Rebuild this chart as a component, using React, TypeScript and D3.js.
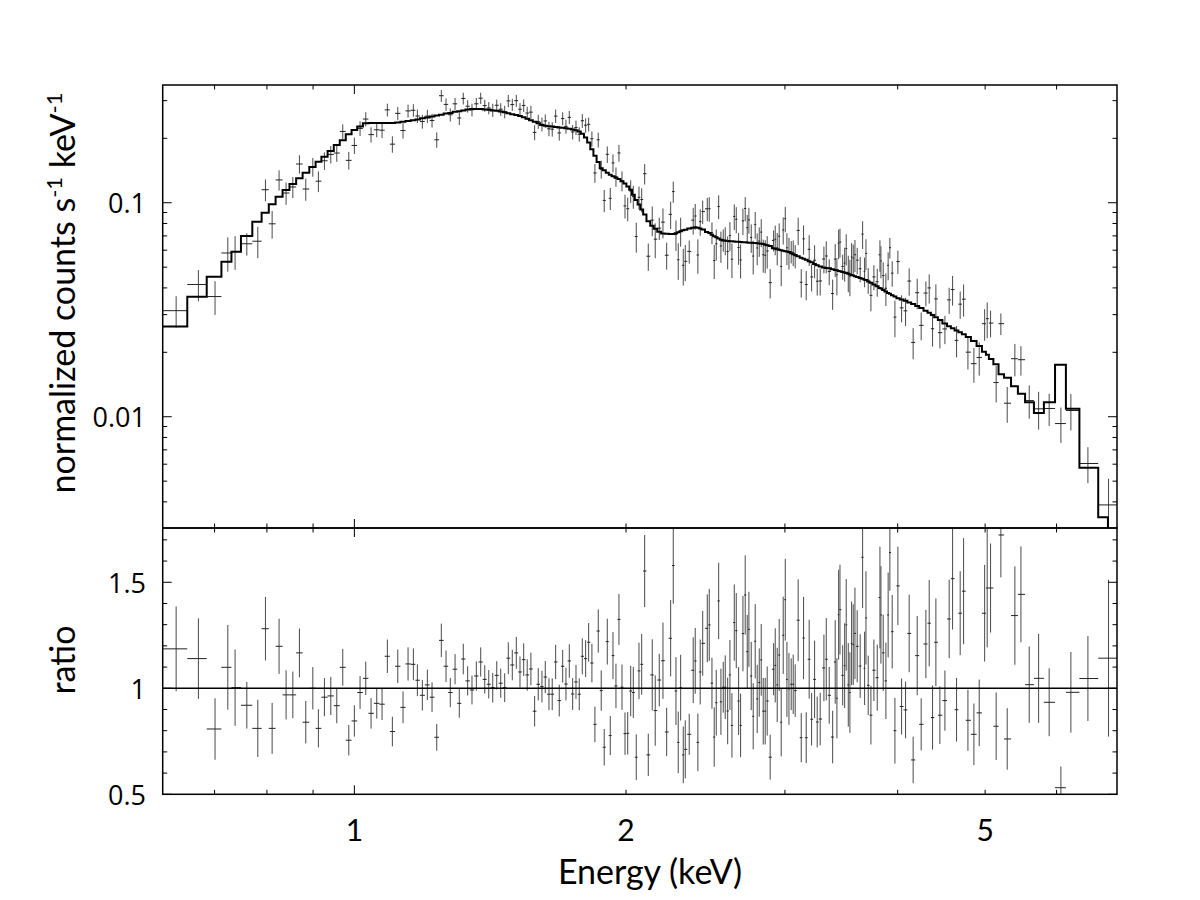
import React from 'react';
import * as d3 from 'd3';

// ---------------- data ----------------
// bin centre energies (keV)
const binEnergy = [
  0.6346, 0.6717, 0.7008, 0.724, 0.7376, 0.76, 0.7816, 0.797, 0.8107, 0.8252,
  0.8401, 0.8547, 0.8692, 0.8834, 0.8994, 0.9123, 0.9264, 0.9416, 0.9561, 0.9708,
  0.9858, 1.0, 1.0146, 1.0295, 1.0435, 1.0588, 1.0732, 1.0878, 1.1018, 1.1171,
  1.1322, 1.1468, 1.1625, 1.1744, 1.1894, 1.2047, 1.2192, 1.2339, 1.2484, 1.2635,
  1.2773, 1.2929, 1.307, 1.3203, 1.3352, 1.35, 1.365, 1.3804, 1.3947, 1.409,
  1.4234, 1.438, 1.4527, 1.4675, 1.4811, 1.4962, 1.5116, 1.5259, 1.5404, 1.5543,
  1.569, 1.584, 1.5987, 1.6138, 1.6276, 1.643, 1.6567, 1.6713, 1.6867, 1.7015,
  1.7158, 1.7305, 1.7454, 1.7603, 1.775, 1.7888, 1.8042, 1.8181, 1.8333, 1.8474,
  1.8632, 1.8774, 1.8918, 1.9066, 1.9212, 1.9345, 1.9493, 1.9642, 1.9795, 1.9948,
  2.0086, 2.024, 2.0375, 2.053, 2.0672, 2.0815, 2.0974, 2.1168, 2.1384, 2.1547,
  2.1771, 2.1977, 2.2185, 2.2412, 2.2562, 2.2718, 2.285, 2.2991, 2.3145, 2.3263,
  2.35, 2.374, 2.3862, 2.4024, 2.4167, 2.4322, 2.4606, 2.4731, 2.4903, 2.5047,
  2.5177, 2.5333, 2.5479, 2.5631, 2.5762, 2.5922, 2.6072, 2.6205, 2.6362, 2.6496,
  2.6656, 2.6792, 2.6951, 2.7108, 2.7249, 2.7365, 2.7528, 2.7668, 2.7809, 2.795,
  2.8096, 2.8239, 2.8383, 2.8527, 2.8672, 2.8891, 2.9145, 2.9266, 2.9415, 2.9564,
  2.9717, 2.9868, 3.0026, 3.0152, 3.031, 3.0485, 3.064, 3.0796, 3.1031, 3.1275,
  3.1463, 3.1674, 3.1915, 3.2114, 3.2359, 3.2576, 3.2825, 3.3137, 3.3336, 3.359,
  3.3884, 3.4105, 3.4255, 3.4405, 3.4524, 3.4764, 3.4941, 3.5078, 3.5262, 3.5409,
  3.5564, 3.5712, 3.5868, 3.6075, 3.635, 3.6577, 3.6763, 3.689, 3.7103, 3.736,
  3.7645, 3.7967, 3.823, 3.8327, 3.8548, 3.8815, 3.9039, 3.921, 3.9445, 3.9719,
  4.0021, 4.0401, 4.0813, 4.1192, 4.1611, 4.2044, 4.2472, 4.2984, 4.3351, 4.3722,
  4.4096, 4.4546, 4.5123, 4.5615, 4.6016, 4.6485, 4.6915, 4.7327, 4.7853, 4.8587,
  4.9253, 4.9939, 5.0263, 5.0699, 5.143, 5.205, 5.2897, 5.3942, 5.4782, 5.5955,
  5.7311, 5.8875, 6.0665, 6.223, 6.4994, 6.8502,
];

// data / model ratio per bin
const ratioValue = [
  1.186, 1.14, 0.808, 1.099, 1.003, 0.92, 0.811, 1.281, 0.811, 1.198,
  0.969, 0.969, 1.167, 0.84, 1.0, 0.811, 0.958, 0.964, 0.918, 1.099,
  0.755, 0.846, 0.98, 1.047, 0.882, 0.929, 0.925, 1.151, 0.796, 1.104,
  0.91, 1.115, 1.113, 1.038, 0.967, 1.016, 0.958, 0.769, 1.226, 1.104,
  0.98, 1.09, 0.929, 1.138, 1.035, 0.992, 1.058, 1.124, 1.042, 1.019,
  1.003, 1.061, 1.024, 1.003, 1.142, 1.11, 1.167, 1.077, 1.135, 1.063,
  1.091, 0.892, 1.019, 1.008, 1.053, 0.972, 0.972, 1.124, 0.942, 1.104,
  1.02, 1.129, 0.973, 1.03, 0.972, 1.151, 1.14, 1.217, 1.119, 0.83,
  1.27, 0.989, 0.722, 1.22, 0.777, 1.154, 1.011, 1.325, 1.005, 0.786,
  0.788, 0.987, 0.98, 0.675, 1.082, 1.113, 1.553, 0.686, 1.063, 0.895,
  1.039, 1.13, 0.794, 1.236, 1.579, 0.987, 0.745, 1.003, 0.686, 0.712,
  0.783, 1.085, 1.129, 0.745, 1.077, 1.212, 1.283, 1.299, 1.024, 0.77,
  0.932, 1.412, 0.936, 1.005, 1.005, 0.893, 1.063, 0.825, 1.31, 1.272,
  0.94, 0.825, 1.258, 1.44, 1.173, 1.278, 1.058, 0.868, 1.222, 0.95,
  1.027, 1.134, 0.892, 0.892, 0.94, 0.675, 1.09, 1.108, 1.016, 1.157,
  0.84, 1.25, 1.418, 1.042, 0.997, 1.019, 1.019, 0.989, 1.321, 0.767,
  1.237, 0.767, 1.137, 0.854, 1.042, 0.841, 0.855, 1.096, 1.137, 0.967,
  0.77, 1.124, 0.953, 1.347, 1.371, 1.061, 1.107, 1.299, 1.016, 0.98,
  1.212, 1.206, 1.259, 1.198, 1.105, 1.618, 1.094, 1.332, 1.014, 0.873,
  1.085, 1.05, 1.428, 1.346, 1.167, 1.035, 1.346, 1.64, 1.267, 0.8,
  1.483, 0.914, 0.898, 1.259, 0.662, 1.154, 0.83, 1.209, 1.307, 0.862,
  1.217, 0.873, 0.942, 1.327, 1.517, 0.899, 1.354, 1.458, 0.849, 0.783,
  0.884, 1.354, 1.473, 1.473, 0.821, 1.723, 0.761, 1.343, 1.443, 1.017,
  1.047, 0.934, 0.531, 0.981, 1.046, 1.142,
];

// 1-sigma error on the ratio
const ratioError = [
  0.2, 0.19, 0.145, 0.2, 0.18, 0.11, 0.135, 0.15, 0.12, 0.13,
  0.116, 0.11, 0.115, 0.1, 0.1, 0.09, 0.09, 0.09, 0.083, 0.087,
  0.072, 0.074, 0.077, 0.079, 0.072, 0.072, 0.075, 0.079, 0.07, 0.079,
  0.075, 0.078, 0.075, 0.075, 0.072, 0.072, 0.07, 0.063, 0.079, 0.074,
  0.069, 0.071, 0.068, 0.072, 0.069, 0.068, 0.069, 0.069, 0.067, 0.067,
  0.07, 0.067, 0.069, 0.068, 0.075, 0.072, 0.075, 0.073, 0.077, 0.074,
  0.077, 0.072, 0.076, 0.075, 0.076, 0.075, 0.075, 0.081, 0.075, 0.077,
  0.077, 0.079, 0.075, 0.08, 0.075, 0.085, 0.087, 0.091, 0.091, 0.084,
  0.102, 0.095, 0.086, 0.108, 0.092, 0.111, 0.105, 0.12, 0.107, 0.1,
  0.1, 0.119, 0.12, 0.108, 0.133, 0.143, 0.17, 0.1, 0.168, 0.166,
  0.124, 0.18, 0.114, 0.18, 0.18, 0.16, 0.145, 0.155, 0.134, 0.137,
  0.097, 0.155, 0.155, 0.136, 0.153, 0.153, 0.16, 0.17, 0.12, 0.14,
  0.155, 0.18, 0.156, 0.12, 0.15, 0.157, 0.165, 0.152, 0.18, 0.177,
  0.16, 0.15, 0.178, 0.187, 0.173, 0.177, 0.161, 0.156, 0.175, 0.161,
  0.161, 0.169, 0.157, 0.157, 0.163, 0.106, 0.123, 0.175, 0.175, 0.17,
  0.161, 0.182, 0.193, 0.177, 0.169, 0.122, 0.14, 0.124, 0.193, 0.116,
  0.194, 0.12, 0.186, 0.124, 0.183, 0.12, 0.124, 0.157, 0.194, 0.134,
  0.124, 0.197, 0.189, 0.212, 0.212, 0.142, 0.2, 0.216, 0.197, 0.19,
  0.197, 0.19, 0.216, 0.17, 0.15, 0.24, 0.173, 0.22, 0.14, 0.138,
  0.145, 0.156, 0.24, 0.23, 0.18, 0.18, 0.2, 0.18, 0.173, 0.155,
  0.185, 0.132, 0.134, 0.183, 0.11, 0.187, 0.123, 0.161, 0.204, 0.151,
  0.207, 0.136, 0.142, 0.185, 0.24, 0.15, 0.198, 0.25, 0.144, 0.145,
  0.157, 0.228, 0.28, 0.21, 0.159, 0.2, 0.145, 0.232, 0.226, 0.18,
  0.21, 0.16, 0.1, 0.19, 0.2, 0.37,
];

// folded model, normalized counts s^-1 keV^-1, per bin
const modelValue = [
  0.0264, 0.0364, 0.0451, 0.053, 0.059, 0.0699, 0.0815, 0.0898, 0.0983, 0.1067,
  0.1146, 0.1223, 0.13, 0.138, 0.147, 0.1555, 0.164, 0.1745, 0.186, 0.196,
  0.209, 0.219, 0.227, 0.235, 0.236, 0.236, 0.236, 0.236, 0.236, 0.237,
  0.239, 0.241, 0.243, 0.245, 0.248, 0.25, 0.253, 0.256, 0.258, 0.261,
  0.263, 0.266, 0.268, 0.27, 0.273, 0.274, 0.274, 0.274, 0.273, 0.272,
  0.27, 0.269, 0.267, 0.265, 0.262, 0.259, 0.257, 0.254, 0.251, 0.247,
  0.243, 0.239, 0.235, 0.231, 0.229, 0.228, 0.227, 0.226, 0.225, 0.224,
  0.223, 0.222, 0.22, 0.218, 0.215, 0.21, 0.202, 0.191, 0.178, 0.166,
  0.155, 0.145, 0.142, 0.138, 0.135, 0.133, 0.131, 0.129, 0.126, 0.123,
  0.119, 0.115, 0.109, 0.103, 0.098, 0.093, 0.088, 0.082, 0.078, 0.0755,
  0.0732, 0.0718, 0.0716, 0.0714, 0.0714, 0.072, 0.0727, 0.0735, 0.0743, 0.0748,
  0.0757, 0.0764, 0.0768, 0.0765, 0.0758, 0.075, 0.073, 0.0722, 0.0708, 0.0698,
  0.069, 0.068, 0.0671, 0.0667, 0.0665, 0.0663, 0.0661, 0.066, 0.0659, 0.0658,
  0.0657, 0.0655, 0.0654, 0.0653, 0.0652, 0.0651, 0.065, 0.0649, 0.0648, 0.0647,
  0.0645, 0.0643, 0.0641, 0.0637, 0.0633, 0.0627, 0.0612, 0.0609, 0.0606, 0.0603,
  0.06, 0.0597, 0.0594, 0.0591, 0.0588, 0.058, 0.0575, 0.057, 0.0562, 0.0554,
  0.0548, 0.0541, 0.0533, 0.0527, 0.0517, 0.0511, 0.0504, 0.0498, 0.0496, 0.0494,
  0.0489, 0.0485, 0.0483, 0.048, 0.0478, 0.0475, 0.0472, 0.047, 0.0466, 0.0463,
  0.046, 0.0457, 0.0454, 0.045, 0.0445, 0.0441, 0.0437, 0.0435, 0.0429, 0.0423,
  0.0415, 0.0407, 0.04, 0.0397, 0.0391, 0.0385, 0.0379, 0.0376, 0.037, 0.0365,
  0.0358, 0.0353, 0.0348, 0.0342, 0.0336, 0.0329, 0.0322, 0.0313, 0.0306, 0.0299,
  0.0292, 0.0283, 0.0273, 0.0265, 0.0259, 0.0253, 0.0248, 0.0243, 0.0236, 0.0226,
  0.0214, 0.0201, 0.0195, 0.0186, 0.0176, 0.0158, 0.0152, 0.0139, 0.0128, 0.0117,
  0.0104, 0.0117, 0.0175, 0.0109, 0.00578, 0.00339,
];

// axis ranges and ticks
const energyDomain = [0.6132, 7.0];
const modelEndEnergy = 6.84;
const countsDomain = [0.00302, 0.355];
const ratioDomain = [0.5, 1.756];
const xMajorTicks = [1];
const xMinorTicks = [0.7, 0.8, 0.9, 2, 3, 4, 5, 6];
const xTickLabels = [1, 2, 5];
const countsMajorTicks = [0.01, 0.1];
const countsMinorTicks = [0.004, 0.005, 0.006, 0.007, 0.008, 0.009, 0.02, 0.03, 0.04, 0.05, 0.06, 0.07, 0.08, 0.09, 0.2, 0.3];
const countsTickLabels = [0.01, 0.1];
const ratioMajorTicks = [0.5, 1, 1.5];
const ratioMinorTicks = [0.6, 0.7, 0.8, 0.9, 1.1, 1.2, 1.3, 1.4, 1.6, 1.7];
const ratioTickLabels = [0.5, 1, 1.5];

const LABEL_FONT = 'Lato, "Open Sans", sans-serif';
const TICK_FONT = '"Open Sans", "DejaVu Sans", sans-serif';

export default function App() {
  const W = 1200, H = 900;
  const left = 162.7, right = 1117, top = 85, mid = 528, bottom = 794.3;
  const MAJ = 9, MIN = 4.5;

  const x = d3.scaleLog().domain(energyDomain).range([left, right]);
  const yTop = d3.scaleLog().domain(countsDomain).range([mid, top]);
  const yRat = d3.scaleLinear().domain(ratioDomain).range([bottom, mid]);

  const n = binEnergy.length;
  const bins = binEnergy.map((e, i) => {
    const lo = i === 0 ? energyDomain[0] : Math.sqrt(binEnergy[i - 1] * e);
    const hi = i === n - 1 ? (e * e) / Math.sqrt(binEnergy[i - 1] * e) : Math.sqrt(e * binEnergy[i + 1]);
    return { e, lo, hi, r: ratioValue[i], re: ratioError[i], m: modelValue[i] };
  });

  // model histogram path
  let modelPath = '';
  bins.forEach((b, i) => {
    const yy = yTop(b.m);
    const hi = i === n - 1 ? modelEndEnergy : b.hi;
    if (i === 0) modelPath += `M${x(b.lo)},${yy}`;
    else modelPath += `V${yy}`;
    modelPath += `H${x(hi)}`;
  });
  modelPath += `V${mid + 20}H${right + 10}`;

  const ticksX = (yEdgeTop: number, yEdgeBottom: number, key: string) => (
    <g key={key} stroke="#000" strokeWidth={1}>
      {xMajorTicks.map((t) => (
        <g key={`M${t}`}>
          <line x1={x(t)} x2={x(t)} y1={yEdgeTop} y2={yEdgeTop + MAJ} />
          <line x1={x(t)} x2={x(t)} y1={yEdgeBottom} y2={yEdgeBottom - MAJ} />
        </g>
      ))}
      {xMinorTicks.map((t) => (
        <g key={`m${t}`}>
          <line x1={x(t)} x2={x(t)} y1={yEdgeTop} y2={yEdgeTop + MIN} />
          <line x1={x(t)} x2={x(t)} y1={yEdgeBottom} y2={yEdgeBottom - MIN} />
        </g>
      ))}
    </g>
  );

  const ticksY = (scale: (v: number) => number, major: number[], minor: number[], key: string) => (
    <g key={key} stroke="#000" strokeWidth={1}>
      {major.map((t) => (
        <g key={`M${t}`}>
          <line x1={left} x2={left + MAJ} y1={scale(t)} y2={scale(t)} />
          <line x1={right} x2={right - MAJ} y1={scale(t)} y2={scale(t)} />
        </g>
      ))}
      {minor.map((t) => (
        <g key={`m${t}`}>
          <line x1={left} x2={left + MIN} y1={scale(t)} y2={scale(t)} />
          <line x1={right} x2={right - MIN} y1={scale(t)} y2={scale(t)} />
        </g>
      ))}
    </g>
  );

  const errColor = '#4a4a4a';

  return (
    <svg width={W} height={H} style={{ position: 'absolute', left: 0, top: 0, background: '#fff' }}>
      <defs>
        <clipPath id="clipTop">
          <rect x={left} y={top} width={right - left} height={mid - top} />
        </clipPath>
        <clipPath id="clipBot">
          <rect x={left} y={mid} width={right - left} height={bottom - mid} />
        </clipPath>
      </defs>
      <rect x={0} y={0} width={W} height={H} fill="#fff" />

      {/* upper panel: data and model */}
      <g clipPath="url(#clipTop)">
        {bins.map((b, i) => {
          const v = b.r * b.m;
          const ev = b.re * b.m;
          const cx = x(b.e);
          return (
            <g key={`d${i}`}>
              <line x1={cx} x2={cx} y1={yTop(v + ev)} y2={yTop(Math.max(v - ev, 1e-4))} stroke={errColor} strokeWidth={1} />
              <line x1={x(b.lo)} x2={x(b.hi)} y1={yTop(v)} y2={yTop(v)} stroke="#222" strokeWidth={1} />
            </g>
          );
        })}
        <path d={modelPath} fill="none" stroke="#000" strokeWidth={2} />
      </g>

      {/* lower panel: ratio */}
      <g clipPath="url(#clipBot)">
        {bins.map((b, i) => {
          const cx = x(b.e);
          return (
            <g key={`r${i}`}>
              <line x1={cx} x2={cx} y1={yRat(b.r + b.re)} y2={yRat(b.r - b.re)} stroke={errColor} strokeWidth={1} />
              <line x1={x(b.lo)} x2={x(b.hi)} y1={yRat(b.r)} y2={yRat(b.r)} stroke="#222" strokeWidth={1} />
            </g>
          );
        })}
        <line x1={left} x2={right} y1={yRat(1)} y2={yRat(1)} stroke="#000" strokeWidth={1.5} />
      </g>

      {/* ticks */}
      {ticksX(top, mid, 'xt1')}
      {ticksX(mid, bottom, 'xt2')}
      {ticksY(yTop, countsMajorTicks, countsMinorTicks, 'yt1')}
      {ticksY(yRat, ratioMajorTicks, ratioMinorTicks, 'yt2')}

      {/* frames */}
      <rect x={left} y={top} width={right - left} height={mid - top} fill="none" stroke="#000" strokeWidth={1.5} />
      <rect x={left} y={mid} width={right - left} height={bottom - mid} fill="none" stroke="#000" strokeWidth={1.5} />

      {/* tick labels */}
      <g fontFamily={TICK_FONT} fontSize={27} fill="#000" textAnchor="end">
        {countsTickLabels.map((t) => (
          <text key={`cl${t}`} x={146} y={yTop(t)} dominantBaseline="central">{String(t)}</text>
        ))}
        {ratioTickLabels.map((t) => (
          <text key={`rl${t}`} x={146} y={yRat(t)} dominantBaseline="central">{String(t)}</text>
        ))}
      </g>
      <g fontFamily={LABEL_FONT} fontSize={30} fill="#000" textAnchor="middle">
        {xTickLabels.map((t) => (
          <text key={`xl${t}`} x={x(t)} y={841}>{String(t)}</text>
        ))}
      </g>

      {/* axis titles */}
      <text x={650} y={884} fontFamily={LABEL_FONT} fontSize={34} textAnchor="middle" fill="#000">Energy (keV)</text>
      <text transform="translate(75,293) rotate(-90)" fontFamily={LABEL_FONT} fontSize={34} textAnchor="middle" fill="#000">
        normalized counts s<tspan fontSize={22} dy={-13}>-1</tspan><tspan dy={13}> keV</tspan><tspan fontSize={22} dy={-13}>-1</tspan>
      </text>
      <text transform="translate(75,660) rotate(-90)" fontFamily={LABEL_FONT} fontSize={34} textAnchor="middle" fill="#000">ratio</text>
    </svg>
  );
}
